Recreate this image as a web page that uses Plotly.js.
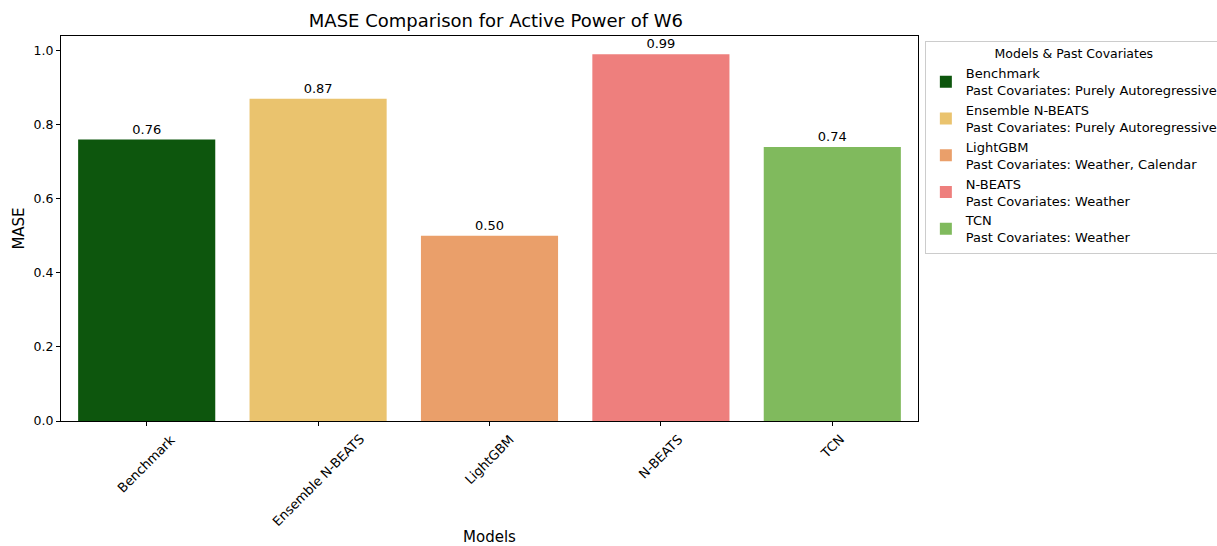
<!DOCTYPE html>
<html>
<head>
<meta charset="utf-8">
<script src="https://cdn.plot.ly/plotly-3.0.1.min.js"></script>
<style>html,body{margin:0;padding:0;background:#fff;}#chart{width:1217px;height:546px;}</style>
</head>
<body>
<div id="chart"></div>
<script>
const models = ["Benchmark", "Ensemble N-BEATS", "LightGBM", "N-BEATS", "TCN"];
const mase = [0.76, 0.87, 0.50, 0.99, 0.74];
const covariates = ["Purely Autoregressive", "Purely Autoregressive", "Weather, Calendar", "Weather", "Weather"];
const colors = ["#0d560d", "#eac36e", "#ea9f6a", "#ee7f7d", "#80ba5d"];

const FONT = "DejaVu Sans, sans-serif";

const traces = models.map((m, i) => ({
  type: "bar",
  x: [m],
  y: [mase[i]],
  width: 0.8,
  name: m + "<br>Past Covariates: " + covariates[i],
  marker: { color: colors[i], line: { width: 0 } },
  text: [mase[i].toFixed(2)],
  textposition: "outside",
  textfont: { family: FONT, size: 13, color: "#000" },
  cliponaxis: false,
  hoverinfo: "x+y"
}));

const annotations = models.map((m) => ({
  x: m, xref: "x", y: 0, yref: "paper",
  yshift: -8,
  text: m, showarrow: false, textangle: -45,
  xanchor: "center", yanchor: "top",
  font: { family: FONT, size: 13, color: "#000" }
}));

const layout = {
  width: 1217, height: 546,
  margin: { l: 61, r: 299, t: 36, b: 125, autoexpand: false },
  paper_bgcolor: "#fff", plot_bgcolor: "#fff",
  font: { family: FONT, color: "#000" },
  title: { text: "MASE Comparison for Active Power of W6", font: { family: FONT, size: 18, color: "#000" }, x: 0.4075, xanchor: "center", y: 0.962, yanchor: "middle" },
  barmode: "overlay",
  bargap: 0.2,
  xaxis: {
    type: "category", range: [-0.5, 4.5],
    showticklabels: false,
    ticks: "outside", ticklen: 4, tickcolor: "#000",
    showline: true, linecolor: "#000", linewidth: 1, mirror: true,
    showgrid: false, zeroline: false,
    title: { text: "Models", font: { family: FONT, size: 15, color: "#000" }, standoff: 109 }
  },
  yaxis: {
    range: [0, 1.0395],
    tickvals: [0, 0.2, 0.4, 0.6, 0.8, 1.0],
    tickformat: ".1f",
    ticks: "outside", ticklen: 4, tickcolor: "#000",
    tickfont: { family: FONT, size: 12.5, color: "#000" },
    showline: true, linecolor: "#000", linewidth: 1, mirror: true,
    showgrid: false, zeroline: false,
    title: { text: "MASE", font: { family: FONT, size: 15, color: "#000" }, standoff: 5 }
  },
  legend: {
    x: 1.008, xanchor: "left", y: 0.987, yanchor: "top",
    bgcolor: "rgba(255,255,255,0.8)", bordercolor: "#cccccc", borderwidth: 1,
    font: { family: FONT, size: 13, color: "#000" },
    title: { text: "Models & Past Covariates", side: "top center", font: { family: FONT, size: 12.5, color: "#000" } },
    tracegroupgap: 0,
    traceorder: "normal"
  },
  annotations: annotations,
  showlegend: true
};

Plotly.newPlot("chart", traces, layout, { displayModeBar: false, staticPlot: true });
</script>
</body>
</html>
